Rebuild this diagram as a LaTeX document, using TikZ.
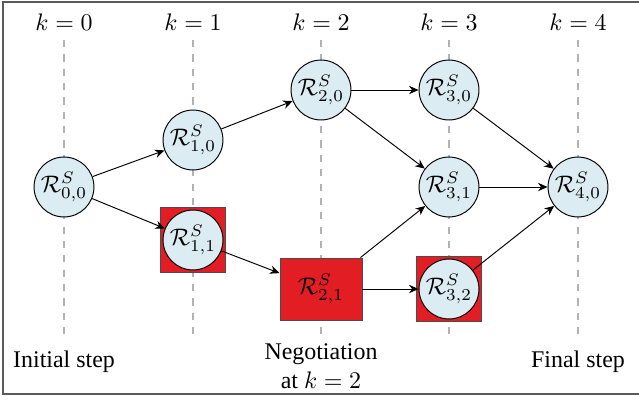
\documentclass[tikz,border=0pt]{standalone}
\usepackage[no-math]{fontspec}
\setmainfont{Liberation Serif}
\newfontfamily\labelfont{Liberation Serif}
\definecolor{stateblue}{RGB}{219, 236, 243}
\definecolor{negred}{RGB}{226, 29, 36}
\definecolor{framegray}{RGB}{90, 90, 90}
\usepackage{tikz}
\usetikzlibrary{arrows.meta, positioning}
\usepackage{amsmath, amssymb}

\tikzset{
  state/.style={circle, draw, fill=stateblue, minimum size=0.88cm, inner sep=0pt},
  negsq/.style={rectangle, draw=black!70, fill=negred, minimum size=0.955cm, inner sep=0pt},
  link/.style={-{Stealth[length=4pt, width=3.5pt]}},
  steptext/.style={font=\labelfont, align=center},
}

\begin{document}
\begin{tikzpicture}[x=0.0147cm, y=-0.0147cm]
  \useasboundingbox (0, 0) rectangle (639, 401);
  \draw[framegray, line width=0.6pt] (3, 2) rectangle (645, 394);

  % time steps
  \foreach \k/\x in {0/64, 1/193, 2/321, 3/449, 4/578} {
    \node (k\k) at (\x, 22) {$k=\k$};
    \draw[gray!60, dashed, semithick] (\x, 40) -- (\x, 335);
  }

  % negotiation boxes
  \node[negsq] (b11) at (193, 240) {};
  \node[negsq] (b32) at (449, 289) {};
  \node[negsq, minimum width=1.205cm, minimum height=0.911cm] (r21) at (321, 289) {$\mathcal{R}^S_{2,1}$};

  % states
  \node[state] (r00) at (64, 187) {$\mathcal{R}^S_{0,0}$};
  \node[state] (r10) at (193, 140) {$\mathcal{R}^S_{1,0}$};
  \node[state] (r11) at (193, 240) {$\mathcal{R}^S_{1,1}$};
  \node[state] (r20) at (321, 90) {$\mathcal{R}^S_{2,0}$};
  \node[state] (r30) at (449, 90) {$\mathcal{R}^S_{3,0}$};
  \node[state] (r31) at (449, 187) {$\mathcal{R}^S_{3,1}$};
  \node[state] (r32) at (449, 289) {$\mathcal{R}^S_{3,2}$};
  \node[state] (r40) at (578, 187) {$\mathcal{R}^S_{4,0}$};

  \draw[link] (r00) -- (r10);
  \draw[link] (r00) -- (r11);
  \draw[link] (r10) -- (r20);
  \draw[link] (r11) -- (r21);
  \draw[link] (r20) -- (r30);
  \draw[link] (r20) -- (r31);
  \draw[link] (r21) -- (r31);
  \draw[link] (r21) -- (r32);
  \draw[link] (r30) -- (r40);
  \draw[link] (r31) -- (r40);
  \draw[link] (r32) -- (r40);

  \node[steptext] (init) at (64, 362) {Initial step};
  \node[steptext] (nego) at (321, 366) {Negotiation\\at $k=2$};
  \node[steptext] (final) at (578, 362) {Final step};
\end{tikzpicture}
\end{document}
